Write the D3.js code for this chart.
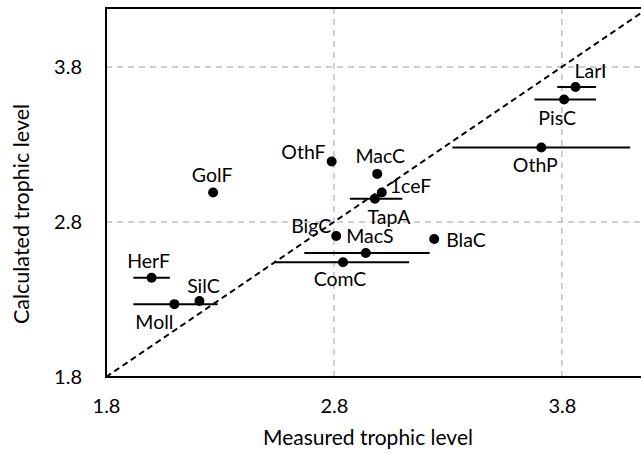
<!DOCTYPE html>
<html>
<head>
<meta charset="utf-8">
<script src="https://cdn.jsdelivr.net/npm/d3@7"></script>
<style>
  body { margin: 0; background: #fff; }
  svg { display: block; font-family: Lato, "Open Sans", sans-serif; }
</style>
</head>
<body>
<svg id="chart" width="641" height="454"></svg>
<script>
// groups and their trophic levels
const groups     = ["GolF", "HerF", "Moll", "SilC", "BigC", "MacS", "ComC", "TapA", "1ceF", "MacC", "OthF", "BlaC", "LarI", "PisC", "OthP"];
const measured   = [2.27, 2.00, 2.10, 2.21, 2.81, 2.94, 2.84, 2.98, 3.01, 2.99, 2.79, 3.24, 3.86, 3.81, 3.71];
const calculated = [2.99, 2.44, 2.27, 2.29, 2.71, 2.60, 2.54, 2.95, 2.99, 3.11, 3.19, 2.69, 3.67, 3.59, 3.28];
// measured range (null = no bar)
const rangeLow   = [null, 1.92, 1.92, null, null, 2.67, 2.54, 2.87, null, null, null, null, 3.78, 3.68, 3.32];
const rangeHigh  = [null, 2.08, 2.29, null, null, 3.22, 3.13, 3.10, null, null, null, null, 3.95, 3.95, 4.10];
const tickValues = [1.8, 2.8, 3.8];

const svg = d3.select("#chart");

const x = d3.scaleLinear().domain([1.8, 4.2]).range([106, 653]);
const y = d3.scaleLinear().domain([1.8, 4.18]).range([377, 8]);

const x0 = x.range()[0], x1 = x.range()[1];
const y0 = y.range()[0], y1 = y.range()[1];

// gridlines
svg.append("g")
  .selectAll("line.gx")
  .data(tickValues.slice(1))
  .join("line")
  .attr("x1", d => x(d)).attr("x2", d => x(d))
  .attr("y1", y1).attr("y2", y0)
  .attr("stroke", "#bfbfbf").attr("stroke-width", 1.5)
  .attr("stroke-dasharray", "6,5");

svg.append("g")
  .selectAll("line.gy")
  .data(tickValues.slice(1))
  .join("line")
  .attr("x1", x0).attr("x2", x1)
  .attr("y1", d => y(d)).attr("y2", d => y(d))
  .attr("stroke", "#bfbfbf").attr("stroke-width", 1.5)
  .attr("stroke-dasharray", "6,5");

// 1:1 line
svg.append("line")
  .attr("x1", x(1.8)).attr("y1", y(1.8))
  .attr("x2", x(4.2)).attr("y2", y(4.2))
  .attr("stroke", "#000").attr("stroke-width", 2)
  .attr("stroke-dasharray", "6,4");

// frame (right side is cut off)
svg.append("path")
  .attr("d", `M${x1},${y1}H${x0}V${y0}H${x1}`)
  .attr("fill", "none").attr("stroke", "#000").attr("stroke-width", 2);

// axes
const xAxis = svg.append("g")
  .attr("transform", `translate(0,${y0})`)
  .call(d3.axisBottom(x).tickValues(tickValues).tickFormat(d3.format(".1f")).tickSize(0).tickPadding(24));
const yAxis = svg.append("g")
  .attr("transform", `translate(${x0},0)`)
  .call(d3.axisLeft(y).tickValues(tickValues).tickFormat(d3.format(".1f")).tickSize(0).tickPadding(24));
[xAxis, yAxis].forEach(a => {
  a.select(".domain").remove();
  a.selectAll("text").attr("font-family", "Lato, sans-serif").attr("font-size", 20).attr("fill", "#000");
});
xAxis.selectAll("text").attr("dy", "0.6em");

const pts = groups.map((g, i) => ({
  name: g, mx: measured[i], cy: calculated[i], lo: rangeLow[i], hi: rangeHigh[i]
}));

// error bars
svg.append("g")
  .selectAll("line")
  .data(pts.filter(d => d.lo !== null))
  .join("line")
  .attr("x1", d => x(d.lo)).attr("x2", d => Math.min(x(d.hi), 641))
  .attr("y1", d => y(d.cy)).attr("y2", d => y(d.cy))
  .attr("stroke", "#000").attr("stroke-width", 2);

// points
svg.append("g")
  .selectAll("circle")
  .data(pts)
  .join("circle")
  .attr("cx", d => x(d.mx)).attr("cy", d => y(d.cy))
  .attr("r", 5).attr("fill", "#000");

// label placement around each point
const labelOffset = {
  GolF: [-1, -18, "middle"], HerF: [-3, -17, "middle"], Moll: [-20, 17, "middle"],
  SilC: [4, -16, "middle"], BigC: [-25, -10, "middle"], MacS: [4, -17, "middle"],
  ComC: [-3, 16, "middle"], TapA: [14, 18, "middle"], "1ceF": [8, -7, "start"],
  MacC: [3, -18, "middle"], OthF: [-6, -10, "end"], BlaC: [12, 0, "start"],
  LarI: [15, -17, "middle"], PisC: [-7, 18, "middle"], OthP: [-6, 17, "middle"]
};

svg.append("g")
  .selectAll("text")
  .data(pts)
  .join("text")
  .attr("x", d => x(d.mx) + labelOffset[d.name][0])
  .attr("y", d => y(d.cy) + labelOffset[d.name][1])
  .attr("text-anchor", d => labelOffset[d.name][2])
  .attr("dominant-baseline", "central")
  .attr("font-size", 19.5)
  .attr("fill", "#000")
  .text(d => d.name);

// axis titles
svg.append("text")
  .attr("x", 368).attr("y", 445)
  .attr("text-anchor", "middle")
  .attr("font-size", 21)
  .text("Measured trophic level");

svg.append("text")
  .attr("transform", "translate(29,214) rotate(-90)")
  .attr("text-anchor", "middle")
  .attr("font-size", 21.5)
  .text("Calculated trophic level");
</script>
</body>
</html>
